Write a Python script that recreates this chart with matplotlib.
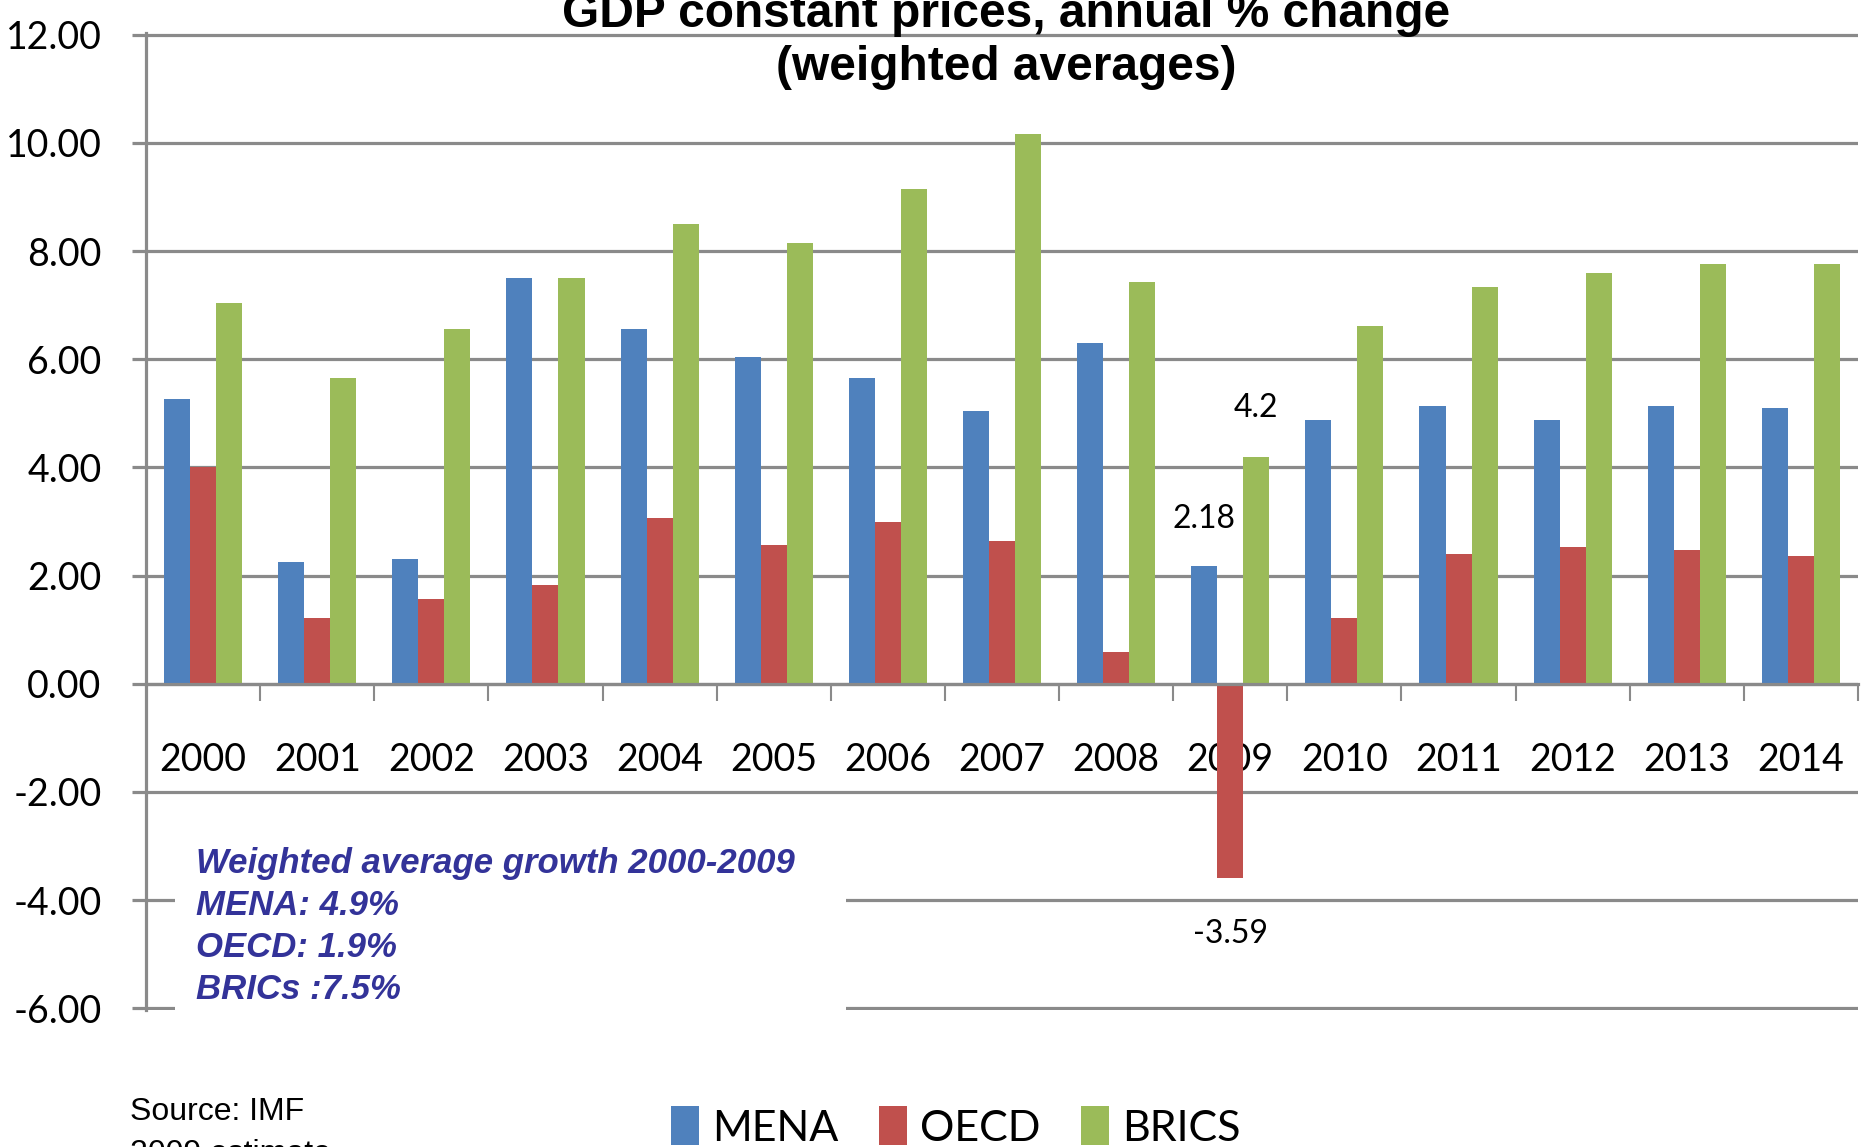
import numpy as np
import matplotlib
matplotlib.use("Agg")
import matplotlib.pyplot as plt
from matplotlib import font_manager
from matplotlib.patches import Rectangle, Patch

# GDP growth, constant prices, annual % change (weighted averages)
years = ["2000", "2001", "2002", "2003", "2004", "2005", "2006", "2007",
         "2008", "2009", "2010", "2011", "2012", "2013", "2014"]
mena = [5.27, 2.25, 2.30, 7.51, 6.55, 6.05, 5.66, 5.05, 6.30, 2.18,
        4.88, 5.14, 4.88, 5.14, 5.10]
oecd = [4.01, 1.22, 1.57, 1.82, 3.07, 2.57, 2.99, 2.64, 0.58, -3.59,
        1.22, 2.39, 2.52, 2.48, 2.36]
brics = [7.04, 5.65, 6.56, 7.51, 8.50, 8.15, 9.14, 10.17, 7.42, 4.2,
         6.61, 7.33, 7.59, 7.76, 7.76]
series_names = ["MENA", "OECD", "BRICS"]
summary_lines = ["Weighted average growth 2000-2009", "MENA: 4.9%",
                 "OECD: 1.9%", "BRICs :7.5%"]

colors = ["#4F81BD", "#C0504D", "#9BBB59"]
grid_c = "#8a8a8a"

# Lato for the chart text, Arial-like face for title and notes
try:
    font_manager.findfont("Lato", fallback_to_default=False)
    chart_font = "Lato"
except ValueError:
    chart_font = "Liberation Sans"
plt.rcParams["font.family"] = [chart_font, "DejaVu Sans"]

W, H = 1862, 1147
fig = plt.figure(figsize=(W / 100, H / 100), dpi=100)
ax = fig.add_axes([146 / W, 1 - 1010 / H, (1858 - 146) / W, (1010 - 33) / H])

x = np.arange(len(years))
w = 0.228
for i, vals in enumerate([mena, oecd, brics]):
    ax.bar(x + (i - 1) * w, vals, width=w, color=colors[i], zorder=2)

ax.set_xlim(-0.5, 14.5)
ax.set_ylim(-6.03, 12.03)
yt = np.arange(-6, 13, 2)
ax.set_yticks(yt)
ax.set_yticklabels([f"{v:.2f}" for v in yt])
ax.grid(axis="y", color=grid_c, lw=2.3)
ax.set_axisbelow(True)

for s in ["top", "right"]:
    ax.spines[s].set_visible(False)
ax.spines["left"].set_color(grid_c)
ax.spines["left"].set_linewidth(2.3)
ax.spines["bottom"].set_position(("data", 0))
ax.spines["bottom"].set_color(grid_c)
ax.spines["bottom"].set_linewidth(2.3)

ax.set_xticks(x)
ax.set_xticklabels(years)
ax.set_xticks(np.arange(0.5, 15, 1), minor=True)
ax.tick_params(axis="x", which="major", length=0, pad=42, labelsize=27)
ax.tick_params(axis="x", which="minor", length=12, width=1.5, color=grid_c)
ax.tick_params(axis="y", length=10, width=2.3, color=grid_c, pad=22, labelsize=27)

# white panel behind the summary text hides the lower gridlines
ax.add_patch(Rectangle((-0.25, -6.6), 5.88, 3.9, facecolor="white",
                       edgecolor="none", zorder=1, clip_on=False))

# value labels for 2009
i09 = years.index("2009")
ax.annotate(f"{mena[i09]:g}", (x[i09] - w, mena[i09]), xytext=(0, 34),
            textcoords="offset points", ha="center", va="center", fontsize=23)
ax.annotate(f"{brics[i09]:g}", (x[i09] + w, brics[i09]), xytext=(0, 35),
            textcoords="offset points", ha="center", va="center", fontsize=23)
ax.annotate(f"{oecd[i09]:g}", (x[i09], oecd[i09]), xytext=(0, -40),
            textcoords="offset points", ha="center", va="center", fontsize=23)

# title
fig.text(1006 / W, 1 - 27 / H, "GDP constant prices, annual % change",
         ha="center", va="baseline", fontsize=34.5, fontweight="bold",
         family="Liberation Sans")
fig.text(1006 / W, 1 - 80 / H, "(weighted averages)",
         ha="center", va="baseline", fontsize=34.5, fontweight="bold",
         family="Liberation Sans")

# summary of average growth
for k, line in enumerate(summary_lines):
    fig.text(196 / W, 1 - (873 + 42 * k) / H, line, ha="left", va="baseline",
             fontsize=25, fontweight="bold", fontstyle="italic",
             color="#333399", family="Liberation Sans")

fig.text(130 / W, 1 - 1120 / H, "Source: IMF", ha="left", va="baseline",
         fontsize=23, family="Liberation Sans")
fig.text(130 / W, 1 - 1162 / H, "2009 estimate", ha="left", va="baseline",
         fontsize=23, family="Liberation Sans")

handles = [Patch(facecolor=c) for c in colors]
fig.legend(handles, series_names, loc="center left",
           bbox_to_anchor=(671 / W, 1 - 1127 / H), ncol=3, frameon=False,
           fontsize=31, handlelength=0.65, handleheight=1.0,
           handletextpad=0.3, columnspacing=0.95, borderpad=0,
           borderaxespad=0)

fig.savefig("out.png", dpi=100)
